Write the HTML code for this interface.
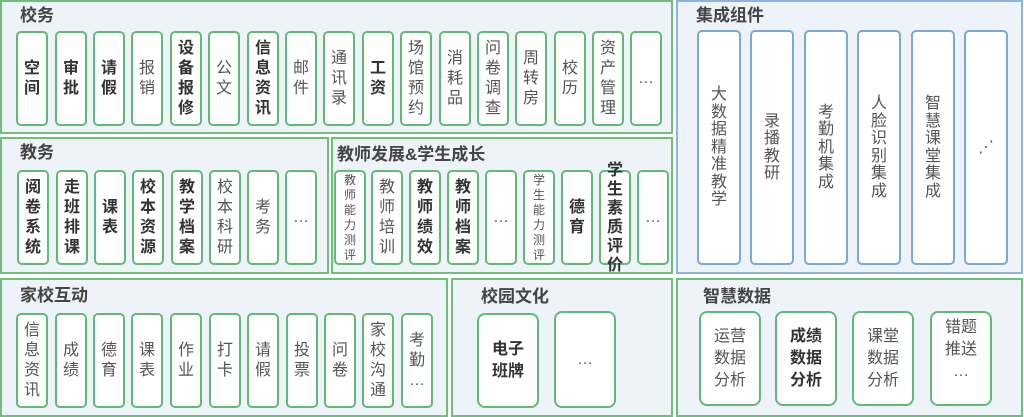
<!DOCTYPE html>
<html><head><meta charset="utf-8"><style>
body{margin:0;width:1024px;height:417px;background:#fff;position:relative;overflow:hidden;font-family:"Liberation Sans","Noto Sans CJK SC",sans-serif}
.p{position:absolute;background:#eef3f9;border:2px solid #6cc07a;box-sizing:border-box}
.p.b{border-color:#8db5dc}
.t{position:absolute;font-size:17px;font-weight:bold;color:#444;line-height:20px}
.c{position:absolute;background:#fff;border:2px solid #62bb74;border-radius:5px;box-sizing:border-box;display:flex;align-items:center;justify-content:center;text-align:center;font-size:16px;line-height:20px;color:#555;width:32px;height:95px}
.c.k{font-weight:bold;color:#333}
.c.s{font-size:12px;line-height:15px}
.c.bl{border-color:#7aa8d8;width:44px;height:235px;top:30px;line-height:17.5px}
.c.w{width:62px;height:95px;line-height:22px}
</style></head><body>
<div class="p" style="left:0;top:0;width:673px;height:134px"></div>
<div class="t" style="left:20px;top:6px">校务</div>
<div class="c k" style="left:16px;top:31px">空<br>间</div>
<div class="c k" style="left:55px;top:31px">审<br>批</div>
<div class="c k" style="left:93px;top:31px">请<br>假</div>
<div class="c" style="left:131px;top:31px">报<br>销</div>
<div class="c k" style="left:170px;top:31px">设<br>备<br>报<br>修</div>
<div class="c" style="left:208px;top:31px">公<br>文</div>
<div class="c k" style="left:247px;top:31px">信<br>息<br>资<br>讯</div>
<div class="c" style="left:285px;top:31px">邮<br>件</div>
<div class="c" style="left:323px;top:31px">通<br>讯<br>录</div>
<div class="c k" style="left:362px;top:31px">工<br>资</div>
<div class="c" style="left:400px;top:31px">场<br>馆<br>预<br>约</div>
<div class="c" style="left:439px;top:31px">消<br>耗<br>品</div>
<div class="c" style="left:477px;top:31px">问<br>卷<br>调<br>查</div>
<div class="c" style="left:515px;top:31px">周<br>转<br>房</div>
<div class="c" style="left:554px;top:31px">校<br>历</div>
<div class="c" style="left:592px;top:31px">资<br>产<br>管<br>理</div>
<div class="c" style="left:630px;top:31px">…</div>

<div class="p" style="left:0;top:137px;width:329px;height:137px"></div>
<div class="t" style="left:20px;top:143px">教务</div>
<div class="c k" style="left:17px;top:170px">阅<br>卷<br>系<br>统</div>
<div class="c k" style="left:56px;top:170px">走<br>班<br>排<br>课</div>
<div class="c k" style="left:94px;top:170px">课<br>表</div>
<div class="c k" style="left:132px;top:170px">校<br>本<br>资<br>源</div>
<div class="c k" style="left:171px;top:170px">教<br>学<br>档<br>案</div>
<div class="c" style="left:209px;top:170px">校<br>本<br>科<br>研</div>
<div class="c" style="left:247px;top:170px">考<br>务</div>
<div class="c" style="left:285px;top:170px">…</div>

<div class="p" style="left:331px;top:137px;width:342px;height:137px"></div>
<div class="t" style="left:337px;top:145px">教师发展&amp;学生成长</div>
<div class="c s" style="left:334px;top:170px">教<br>师<br>能<br>力<br>测<br>评</div>
<div class="c" style="left:371px;top:170px">教<br>师<br>培<br>训</div>
<div class="c k" style="left:409px;top:170px">教<br>师<br>绩<br>效</div>
<div class="c k" style="left:447px;top:170px">教<br>师<br>档<br>案</div>
<div class="c" style="left:485px;top:170px">…</div>
<div class="c s" style="left:523px;top:170px">学<br>生<br>能<br>力<br>测<br>评</div>
<div class="c k" style="left:561px;top:170px">德<br>育</div>
<div class="c k" style="left:599px;top:170px;line-height:19px">学<br>生<br>素<br>质<br>评<br>价</div>
<div class="c" style="left:637px;top:170px">…</div>

<div class="p b" style="left:676px;top:0;width:347px;height:274px"></div>
<div class="t" style="left:696px;top:6px">集成组件</div>
<div class="c bl" style="left:697px">大<br>数<br>据<br>精<br>准<br>教<br>学</div>
<div class="c bl" style="left:750px">录<br>播<br>教<br>研</div>
<div class="c bl" style="left:804px">考<br>勤<br>机<br>集<br>成</div>
<div class="c bl" style="left:857px">人<br>脸<br>识<br>别<br>集<br>成</div>
<div class="c bl" style="left:911px">智<br>慧<br>课<br>堂<br>集<br>成</div>
<div class="c bl" style="left:964px">⋰</div>

<div class="p" style="left:0;top:278px;width:448px;height:139px"></div>
<div class="t" style="left:20px;top:286px">家校互动</div>
<div class="c" style="left:16px;top:313px">信<br>息<br>资<br>讯</div>
<div class="c" style="left:55px;top:313px">成<br>绩</div>
<div class="c" style="left:93px;top:313px">德<br>育</div>
<div class="c" style="left:131px;top:313px">课<br>表</div>
<div class="c" style="left:170px;top:313px">作<br>业</div>
<div class="c" style="left:209px;top:313px">打<br>卡</div>
<div class="c" style="left:247px;top:313px">请<br>假</div>
<div class="c" style="left:286px;top:313px">投<br>票</div>
<div class="c" style="left:324px;top:313px">问<br>卷</div>
<div class="c" style="left:362px;top:313px">家<br>校<br>沟<br>通</div>
<div class="c" style="left:401px;top:313px">考<br>勤<br>…</div>

<div class="p" style="left:451px;top:278px;width:222px;height:139px"></div>
<div class="t" style="left:481px;top:287px">校园文化</div>
<div class="c w k" style="left:477px;top:313px;border-radius:8px">电子<br>班牌</div>
<div class="c w" style="left:554px;top:311px;height:97px;border-radius:8px">…</div>

<div class="p" style="left:676px;top:278px;width:347px;height:139px"></div>
<div class="t" style="left:703px;top:287px">智慧数据</div>
<div class="c w" style="left:699px;top:311px;border-radius:8px">运营<br>数据<br>分析</div>
<div class="c w k" style="left:775px;top:311px;border-radius:8px">成绩<br>数据<br>分析</div>
<div class="c w" style="left:852px;top:311px;border-radius:8px">课堂<br>数据<br>分析</div>
<div class="c w" style="left:930px;top:311px;border-radius:8px;align-items:flex-start;padding-top:4px">错题<br>推送<br>…</div>
</body></html>
